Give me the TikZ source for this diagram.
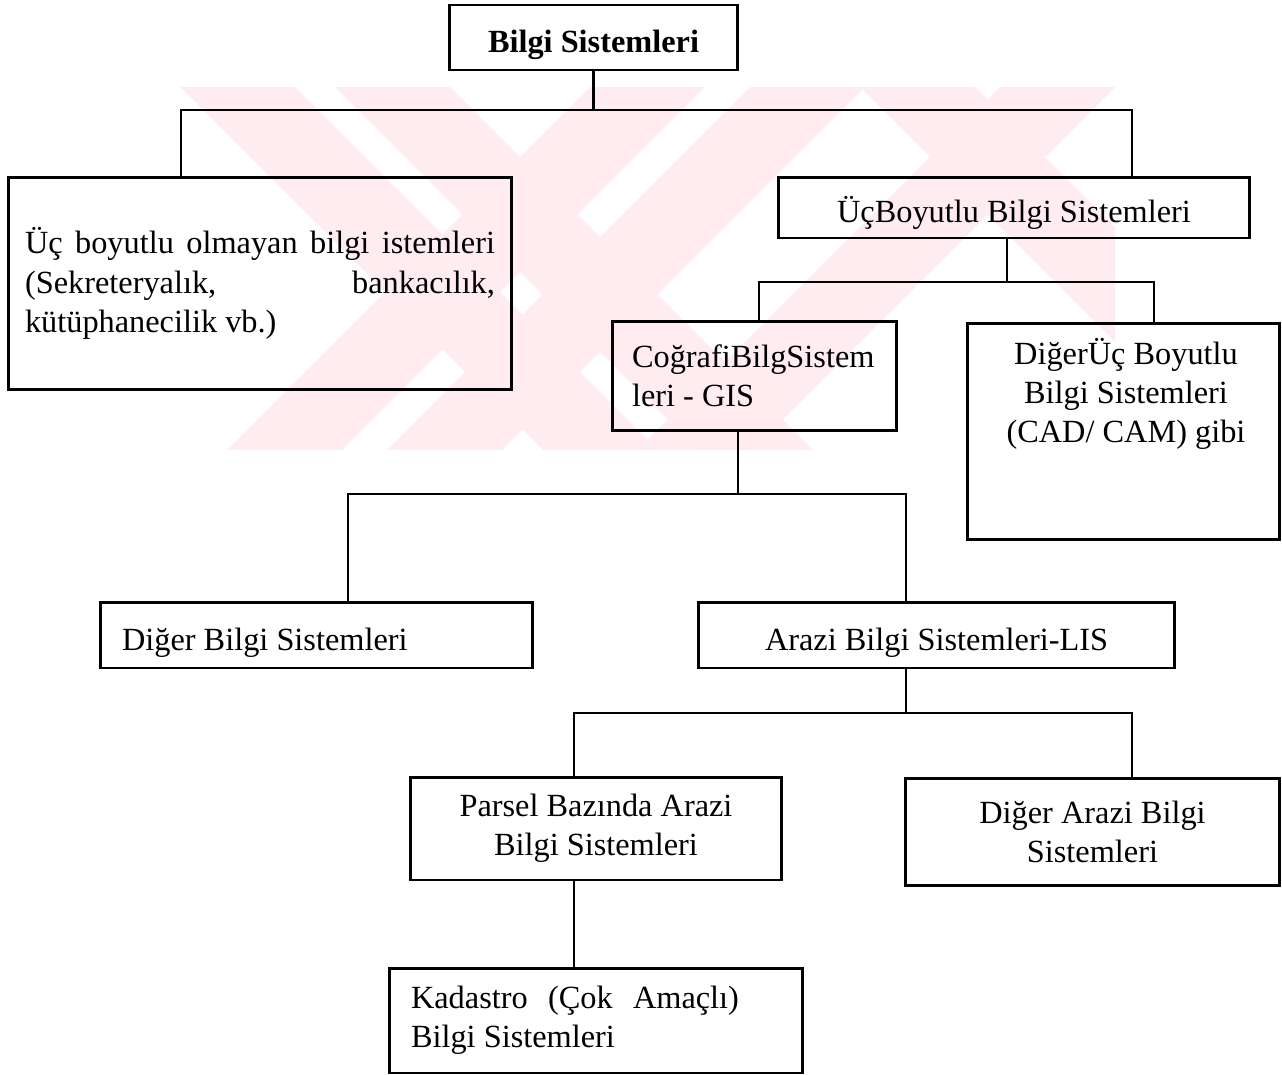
\documentclass[tikz,border=0pt]{standalone}
\usepackage{fontspec}
\setmainfont{Liberation Serif}
\usetikzlibrary{positioning}
\definecolor{WatermarkPink}{RGB}{255,236,240}

\tikzset{
  sysbox/.style={draw,line width=1.7pt,inner sep=0pt,font=\fontsize{18.4}{22.4}\selectfont},
  onelinebox/.style={sysbox,text height=0.62cm,text depth=0pt},
  boxtext/.style={inner sep=0pt,font=\fontsize{18.4}{22.4}\selectfont},
  link/.style={line width=1.4pt}
}

\begin{document}
\begin{tikzpicture}[x=0.02cm,y=-0.02cm]
  \useasboundingbox (0,0) rectangle (1282,1075);

  % watermark in the background
  \begin{scope}
    \clip (180,87) rectangle (1115,450);
    \foreach \xa in {180,335,860}
      \fill[WatermarkPink] (\xa,87) -- ++(115,0) -- ++(363,363) -- ++(-115,0) -- cycle;
    \foreach \xa in {590,750,1000}
      \fill[WatermarkPink] (\xa,87) -- ++(115,0) -- ++(-363,363) -- ++(-115,0) -- cycle;
  \end{scope}

  % boxes
  \node[onelinebox,minimum width=5.78cm,minimum height=1.3cm] (bilgi) at (593.5,37.5)
    {\bfseries Bilgi Sistemleri};
  \node[sysbox,minimum width=10.08cm,minimum height=4.26cm,text width=9.4cm,align=flush left] (ucdegil) at (260,283.5)
    {\makebox[9.4cm]{Üç\hfill\ boyutlu\hfill\ olmayan\hfill\ bilgi\hfill\ istemleri}\\
     \makebox[9.4cm]{(Sekreteryalık,\hfill bankacılık,}\\
     kütüphanecilik vb.)};
  \node[onelinebox,minimum width=9.44cm,minimum height=1.22cm] (ucboyut) at (1014,207.5)
    {ÜçBoyutlu Bilgi Sistemleri};
  \node[sysbox,minimum width=5.7cm,minimum height=2.18cm,text width=4.9cm,align=flush left] (cbs) at (754.5,376)
    {CoğrafiBilgSistem\\leri - GIS};
  \node[sysbox,minimum width=6.26cm,minimum height=4.34cm] (digeruc) at (1123.5,431.5) {};
  \node[boxtext,align=center] (digeruc-txt) at (1126,394)
    {DiğerÜç Boyutlu\\Bilgi Sistemleri\\(CAD/ CAM) gibi};
  \node[onelinebox,minimum width=8.66cm,minimum height=1.32cm,text width=7.78cm,align=flush left] (diger) at (316.5,635)
    {Diğer Bilgi Sistemleri};
  \node[onelinebox,minimum width=9.54cm,minimum height=1.32cm] (lis) at (936.5,635)
    {Arazi Bilgi Sistemleri-LIS};
  \node[sysbox,minimum width=7.44cm,minimum height=2.06cm,align=center] (parsel) at (596,828.5)
    {Parsel Bazında Arazi\\Bilgi Sistemleri};
  \node[sysbox,minimum width=7.5cm,minimum height=2.14cm,align=center] (digerarazi) at (1092.5,832)
    {Diğer Arazi Bilgi\\Sistemleri};
  \node[sysbox,minimum width=8.28cm,minimum height=2.1cm,text width=7.4cm,align=flush left] (kadastro) at (596,1020.5)
    {\makebox[6.56cm]{Kadastro\hfill\ (Çok\hfill\ Amaçlı)}\\Bilgi Sistemleri};

  % junctions
  \coordinate (j1a) at (181,110);
  \coordinate (j1b) at (1132,110);
  \coordinate (j2) at (1007,282);
  \coordinate (j2a) at (759,282);
  \coordinate (j2b) at (1154,282);
  \coordinate (j3) at (738,494);
  \coordinate (j3a) at (348,494);
  \coordinate (j3b) at (906,494);
  \coordinate (j4) at (906,713);
  \coordinate (j4a) at (574,713);
  \coordinate (j4b) at (1132,713);

  % connectors
  \draw[link] (bilgi.south) -- (bilgi.south |- j1a);
  \draw[link] (ucdegil.north -| j1a) -- (j1a) -- (j1b) -- (ucboyut.north -| j1b);
  \draw[link] (ucboyut.south -| j2) -- (j2);
  \draw[link] (cbs.north -| j2a) -- (j2a) -- (j2b) -- (digeruc.north -| j2b);
  \draw[link] (cbs.south -| j3) -- (j3);
  \draw[link] (diger.north -| j3a) -- (j3a) -- (j3b) -- (lis.north -| j3b);
  \draw[link] (lis.south -| j4) -- (j4);
  \draw[link] (parsel.north -| j4a) -- (j4a) -- (j4b) -- (digerarazi.north -| j4b);
  \draw[link] (parsel.south -| j4a) -- (kadastro.north -| j4a);
\end{tikzpicture}
\end{document}
